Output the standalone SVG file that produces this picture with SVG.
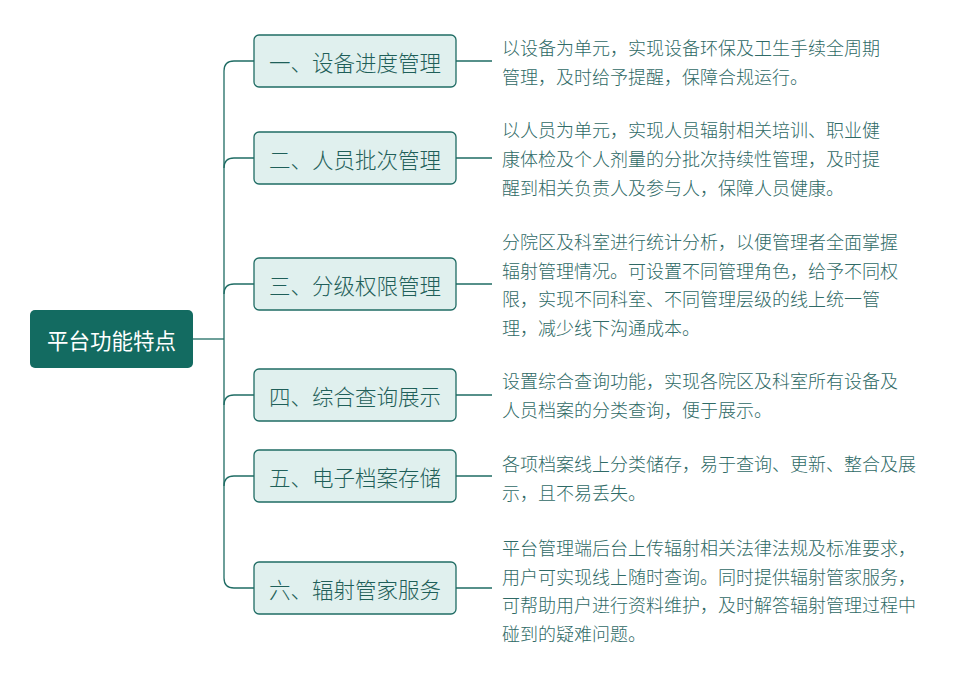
<svg xmlns="http://www.w3.org/2000/svg" width="965" height="678" viewBox="0 0 965 678">
<style>
.b rect{fill:#e0f0ee;stroke:#1f6c64;stroke-width:1.3}
.b text{font-family:"Noto Sans CJK SC",sans-serif;font-size:21.5px;font-weight:300;fill:#1f5f59;text-anchor:middle;dominant-baseline:central}
.d{font-family:"Noto Sans CJK SC",sans-serif;font-size:18px;font-weight:300;fill:#2f6a66}
.c path{fill:none;stroke:#1f6c64;stroke-width:1.3}
</style>
<rect width="965" height="678" fill="#fff"/>
<g class="c">
<path d="M193 339H224"/>
<path d="M254 61H234Q224 61 224 71V578Q224 588 234 588H254"/>
<path d="M224 168Q224 158 234 158H254"/>
<path d="M224 294Q224 284 234 284H254"/>
<path d="M224 405Q224 395 234 395H254"/>
<path d="M224 486Q224 476 234 476H254"/>
<path d="M456 61H492M456 158H492M456 284H492M456 395H492M456 476H492M456 588H492"/>
</g>
<g id="root"><rect x="30" y="310" width="163" height="58" rx="5" fill="#136b61"/><text x="111.5" y="339" font-family="Noto Sans CJK SC,sans-serif" font-size="21.5" fill="#fff" text-anchor="middle" dominant-baseline="central">平台功能特点</text></g>
<g id="n1" class="b"><rect x="254" y="35" width="202" height="52" rx="5"/><text x="355" y="61">一、设备进度管理</text></g>
<g id="n2" class="b"><rect x="254" y="132" width="202" height="52" rx="5"/><text x="355" y="158">二、人员批次管理</text></g>
<g id="n3" class="b"><rect x="254" y="258" width="202" height="52" rx="5"/><text x="355" y="284">三、分级权限管理</text></g>
<g id="n4" class="b"><rect x="254" y="369" width="202" height="52" rx="5"/><text x="355" y="395">四、综合查询展示</text></g>
<g id="n5" class="b"><rect x="254" y="450" width="202" height="52" rx="5"/><text x="355" y="476">五、电子档案存储</text></g>
<g id="n6" class="b"><rect x="254" y="562" width="202" height="52" rx="5"/><text x="355" y="588">六、辐射管家服务</text></g>
<g id="t1" class="d"><text x="502" y="55">以设备为单元，实现设备环保及卫生手续全周期</text><text x="502" y="84">管理，及时给予提醒，保障合规运行。</text></g>
<g id="t2" class="d"><text x="502" y="137">以人员为单元，实现人员辐射相关培训、职业健</text><text x="502" y="166">康体检及个人剂量的分批次持续性管理，及时提</text><text x="502" y="195">醒到相关负责人及参与人，保障人员健康。</text></g>
<g id="t3" class="d"><text x="502" y="249">分院区及科室进行统计分析，以便管理者全面掌握</text><text x="502" y="278">辐射管理情况。可设置不同管理角色，给予不同权</text><text x="502" y="306">限，实现不同科室、不同管理层级的线上统一管</text><text x="502" y="335">理，减少线下沟通成本。</text></g>
<g id="t4" class="d"><text x="502" y="388">设置综合查询功能，实现各院区及科室所有设备及</text><text x="502" y="417">人员档案的分类查询，便于展示。</text></g>
<g id="t5" class="d"><text x="502" y="471">各项档案线上分类储存，易于查询、更新、整合及展</text><text x="502" y="500">示，且不易丢失。</text></g>
<g id="t6" class="d"><text x="502" y="555">平台管理端后台上传辐射相关法律法规及标准要求，</text><text x="502" y="584">用户可实现线上随时查询。同时提供辐射管家服务，</text><text x="502" y="612">可帮助用户进行资料维护，及时解答辐射管理过程中</text><text x="502" y="641">碰到的疑难问题。</text></g>
</svg>
